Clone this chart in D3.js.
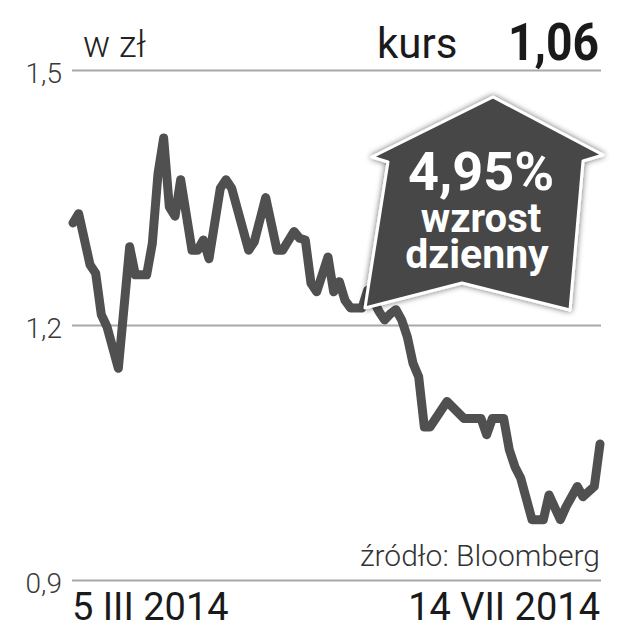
<!DOCTYPE html>
<html>
<head>
<meta charset="utf-8">
<script src="https://cdn.jsdelivr.net/npm/d3@7"></script>
<style>
  body { margin: 0; background: #fff; }
  svg { display: block; }
  .cond { font-family: "Roboto", "DejaVu Sans Condensed", sans-serif; }
  .badge-text { font-family: "Roboto", "DejaVu Sans", sans-serif; font-weight: 700; fill: #fff; }
</style>
</head>
<body>
<script>
// canvas size
var w = 641,
  h = 640;

// trading session index (0 = 5 III 2014, 93 = 14 VII 2014) and closing rate in PLN
var sessions = [0, 1, 3, 4, 5, 6, 8, 10, 11, 13, 14, 15, 16, 17, 18, 19, 21, 22, 23, 24,
  26, 27, 28, 31, 32, 34, 36, 37, 39, 40, 41, 42, 43, 45, 46, 47, 48, 49, 51, 52,
  53, 54, 55, 56, 57, 58, 59, 60, 61, 62, 63, 66, 69, 72, 73, 74, 76, 77, 78, 79,
  81, 83, 84, 86, 87, 89, 90, 92, 93];
var kurs = [1.320, 1.331, 1.271, 1.261, 1.212, 1.198, 1.149, 1.292, 1.259, 1.259, 1.296, 1.378, 1.420, 1.339, 1.328, 1.371, 1.288, 1.288, 1.300, 1.278,
  1.361, 1.371, 1.361, 1.288, 1.298, 1.350, 1.288, 1.288, 1.310, 1.302, 1.300, 1.249, 1.239, 1.280, 1.239, 1.251, 1.229, 1.220, 1.220, 1.241,
  1.229, 1.216, 1.206, 1.213, 1.218, 1.206, 1.186, 1.155, 1.139, 1.080, 1.080, 1.110, 1.090, 1.090, 1.071, 1.090, 1.090, 1.053, 1.033, 1.020,
  0.971, 0.971, 1.000, 0.971, 0.986, 1.010, 0.998, 1.010, 1.060];

// y ticks and labels
var yTicks = [0.9, 1.2, 1.5];
var yTickLabels = ["0,9", "1,2", "1,5"];
var dateLabels = ["5 III 2014", "14 VII 2014"];

// badge texts
var badgeLines = ["4,95%", "wzrost", "dzienny"];

var svg = d3
  .select("body")
  .append("svg")
  .attr("width", w)
  .attr("height", h);

// scales
var xScale = d3.scaleLinear().domain([0, 93]).range([73, 600]);
var yScale = d3.scaleLinear().domain([0.9, 1.5]).range([580, 70]);

// gridlines + labels with an axis
var yAxis = d3
  .axisLeft(yScale)
  .tickValues(yTicks)
  .tickSize(529)
  .tickPadding(10)
  .tickFormat(function (d, i) {
    return yTickLabels[i];
  });

var gAxis = svg
  .append("g")
  .attr("class", "cond")
  .attr("transform", "translate(601,0)")
  .call(yAxis);
gAxis.select(".domain").remove();
gAxis.selectAll(".tick line").attr("stroke", "#a8a8a8").attr("stroke-width", 2);
gAxis
  .selectAll(".tick text")
  .attr("fill", "#3a3a3a")
  .attr("font-size", 28)
  .attr("font-weight", 300)
  .attr("font-family", null)
  .attr("dy", "0.45em");

// headers
svg.append("text").attr("class", "cond").attr("x", 83).attr("y", 57)
  .attr("font-size", 36).attr("font-weight", 300).attr("fill", "#222").text("w zł");
svg.append("text").attr("class", "cond").attr("x", 377).attr("y", 58)
  .attr("font-size", 42).attr("fill", "#1a1a1a").text("kurs");
svg.append("text").attr("class", "cond").attr("x", 508).attr("y", 60)
  .attr("font-size", 52).attr("font-weight", "bold")
  .attr("textLength", 91).attr("lengthAdjust", "spacingAndGlyphs")
  .attr("fill", "#1a1a1a").text("1,06");

// price line
var line = d3
  .line()
  .x(function (d, i) {
    return xScale(sessions[i]);
  })
  .y(function (d) {
    return yScale(d);
  });

svg
  .append("path")
  .datum(kurs)
  .attr("d", line)
  .attr("fill", "none")
  .attr("stroke", "#505050")
  .attr("stroke-width", 9)
  .attr("stroke-linejoin", "round")
  .attr("stroke-linecap", "round");

// source
svg.append("text").attr("class", "cond").attr("x", 600).attr("y", 566)
  .attr("text-anchor", "end").attr("font-size", 30).attr("font-weight", 300).attr("fill", "#333")
  .text("źródło: Bloomberg");

// date labels
svg.append("text").attr("class", "cond").attr("x", xScale(0) - 1).attr("y", 620)
  .attr("font-size", 38).attr("fill", "#1a1a1a").text(dateLabels[0]);
svg.append("text").attr("class", "cond").attr("x", xScale(93)).attr("y", 620)
  .attr("text-anchor", "end").attr("font-size", 38).attr("fill", "#1a1a1a").text(dateLabels[1]);

// badge: up-arrow shape with white border and soft shadow
var defs = svg.append("defs");
var filter = defs.append("filter").attr("id", "shadow")
  .attr("x", "-20%").attr("y", "-20%").attr("width", "140%").attr("height", "140%");
filter.append("feGaussianBlur").attr("in", "SourceAlpha").attr("stdDeviation", 3);
filter.append("feOffset").attr("dx", 0).attr("dy", 0).attr("result", "blur");
filter.append("feComponentTransfer").append("feFuncA").attr("type", "linear").attr("slope", 0.6);
var merge = filter.append("feMerge");
merge.append("feMergeNode");
merge.append("feMergeNode").attr("in", "SourceGraphic");

var badgeShape = [[493, 97], [603, 155], [583, 161], [570, 310], [462, 283],
  [365, 308], [388, 162], [372, 157]];

svg
  .append("path")
  .attr("d", "M" + badgeShape.join("L") + "Z")
  .attr("fill", "#474747")
  .attr("stroke", "#fff")
  .attr("stroke-width", 3)
  .attr("stroke-linejoin", "round")
  .attr("filter", "url(#shadow)");

var badge = svg.append("g").attr("class", "badge-text");
badge.append("text").attr("x", 481).attr("y", 190).attr("text-anchor", "middle")
  .attr("font-size", 54).text(badgeLines[0]);
badge.append("text").attr("x", 481).attr("y", 232).attr("text-anchor", "middle")
  .attr("font-size", 40).text(badgeLines[1]);
badge.append("text").attr("x", 477).attr("y", 268).attr("text-anchor", "middle")
  .attr("font-size", 41).text(badgeLines[2]);
</script>
</body>
</html>
